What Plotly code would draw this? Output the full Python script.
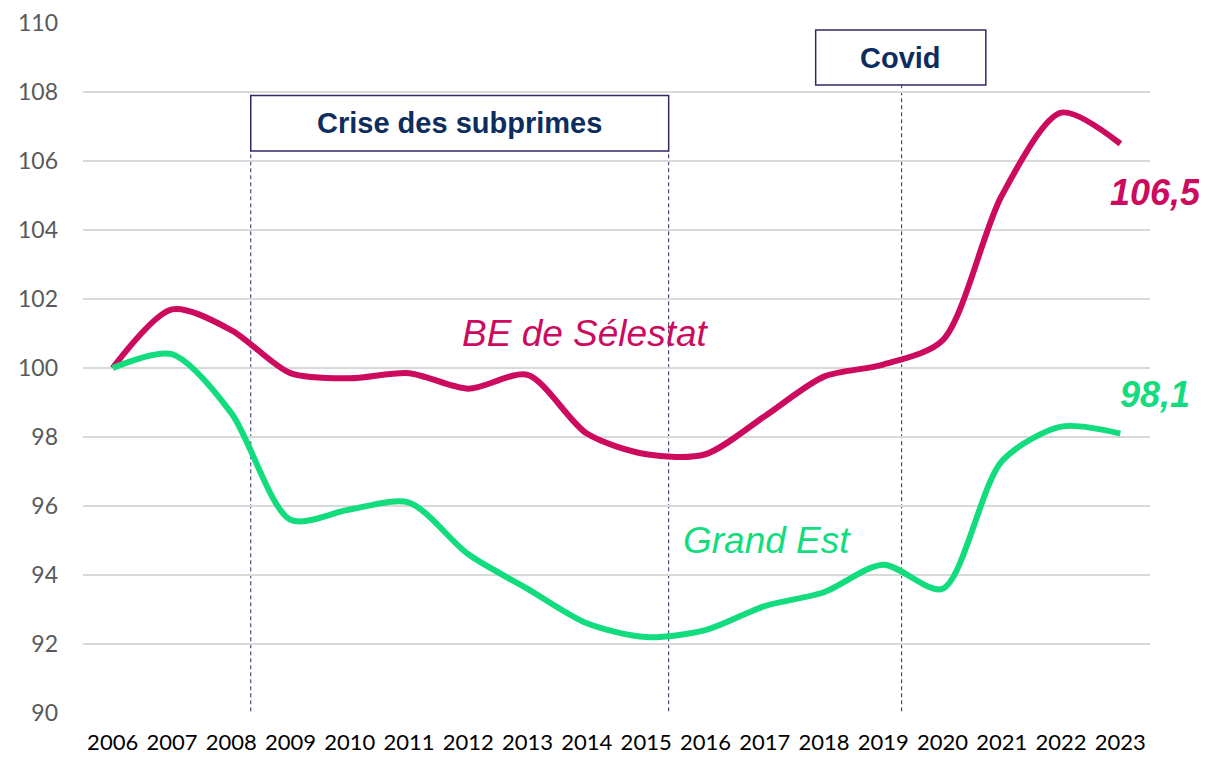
import plotly.graph_objects as go

years = list(range(2006, 2024))
selestat = [100.0, 101.7, 101.1, 99.85, 99.7, 99.85, 99.4, 99.8, 98.1, 97.5, 97.5, 98.6, 99.75, 100.1, 100.8, 105.0, 107.4, 106.5]
grand_est = [100.0, 100.4, 98.7, 95.6, 95.9, 96.1, 94.6, 93.6, 92.6, 92.2, 92.4, 93.1, 93.5, 94.3, 93.6, 97.3, 98.3, 98.1]
y_ticks = [90, 92, 94, 96, 98, 100, 102, 104, 106, 108, 110]

PINK = "#cc0a5e"
GREEN = "#12dc7d"
NAVY = "#0d2d5e"
DASH = "#2e2a66"

fig = go.Figure()
fig.add_trace(go.Scatter(x=years, y=selestat, mode="lines", line=dict(color=PINK, width=6, shape="spline", smoothing=0.8), hoverinfo="skip"))
fig.add_trace(go.Scatter(x=years, y=grand_est, mode="lines", line=dict(color=GREEN, width=6, shape="spline", smoothing=0.8), hoverinfo="skip"))

# event dashed lines
for xv, ytop in [(2008.33, 106.29), (2015.38, 106.29), (2019.31, 108.2)]:
    fig.add_shape(type="line", x0=xv, x1=xv, y0=90.05, y1=ytop, xref="x", yref="y",
                  line=dict(color=DASH, width=1, dash="4px,3px"), layer="below")

# boxes
fig.add_shape(type="rect", x0=2008.33, x1=2015.38, y0=106.29, y1=107.9, xref="x", yref="y",
              line=dict(color=DASH, width=1.5), fillcolor="white")
fig.add_shape(type="rect", x0=2017.86, x1=2020.73, y0=108.2, y1=109.8, xref="x", yref="y",
              line=dict(color=DASH, width=1.5), fillcolor="white")

fig.add_annotation(x=(2008.33 + 2015.38) / 2, y=107.1, xref="x", yref="y", text="<b>Crise des subprimes</b>",
                   showarrow=False, font=dict(family="Liberation Sans, Arial", size=29, color=NAVY))
fig.add_annotation(x=(2017.86 + 2020.73) / 2, y=109.0, xref="x", yref="y", text="<b>Covid</b>",
                   showarrow=False, font=dict(family="Liberation Sans, Arial", size=29, color=NAVY))

fig.add_annotation(x=2013.97, y=101.0, xref="x", yref="y", text="<i>BE de Sélestat</i>",
                   showarrow=False, font=dict(family="Liberation Sans, Arial", size=37, color=PINK))
fig.add_annotation(x=2017.04, y=95.0, xref="x", yref="y", text="<i>Grand Est</i>",
                   showarrow=False, font=dict(family="Liberation Sans, Arial", size=37, color=GREEN))
fig.add_annotation(x=1.005, y=105.1, xref="paper", yref="y", xanchor="center", text="<b><i>106,5</i></b>",
                   showarrow=False, font=dict(family="Liberation Sans, Arial", size=36, color=PINK))
fig.add_annotation(x=1.005, y=99.22, xref="paper", yref="y", xanchor="center", text="<b><i>98,1</i></b>",
                   showarrow=False, font=dict(family="Liberation Sans, Arial", size=36, color=GREEN))

fig.update_layout(
    width=1199, height=749,
    margin=dict(l=75, r=57, t=15, b=44),
    paper_bgcolor="white", plot_bgcolor="white",
    showlegend=False,
    xaxis=dict(range=[2005.5, 2023.5], tickmode="array", tickvals=years, ticktext=[str(y) for y in years],
               showgrid=False, zeroline=False, showline=False, ticks="", automargin=False, ticklabelstandoff=14,
               tickfont=dict(family="Lato, Liberation Sans", size=22, color="#000000")),
    yaxis=dict(range=[90, 110], tickvals=y_ticks, showgrid=True, gridcolor="#d9d9d9", gridwidth=1.5,
               zeroline=False, showline=False, ticks="", ticklabelstandoff=24, automargin=False,
               tickfont=dict(family="Lato, Liberation Sans", size=23, color="#595959")),
)

fig.write_html("out.html")
